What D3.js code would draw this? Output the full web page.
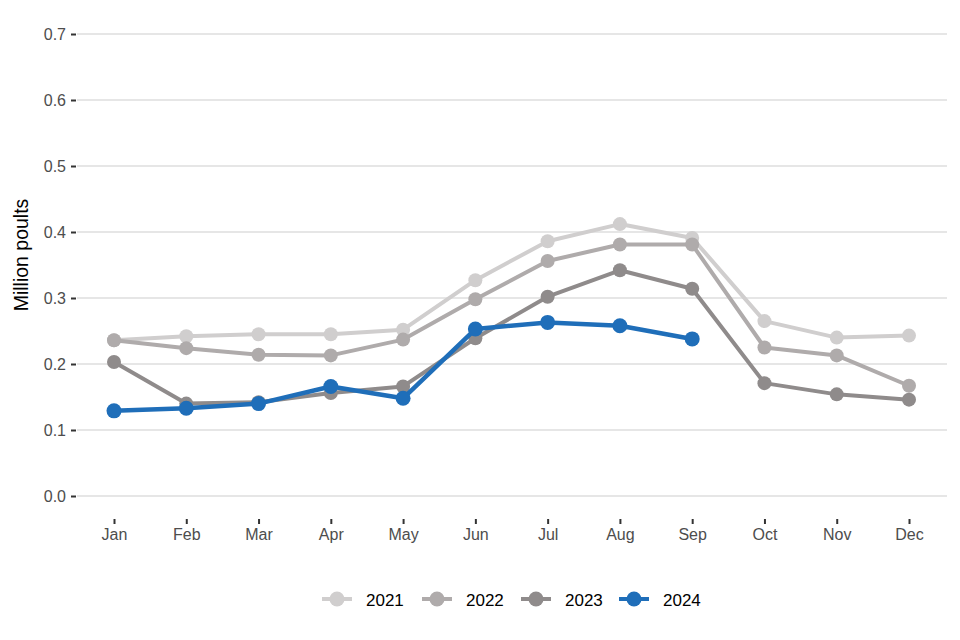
<!DOCTYPE html>
<html><head><meta charset="utf-8">
<script src="https://cdn.jsdelivr.net/npm/d3@7"></script>
<style>body{margin:0;background:#fff;}svg{display:block;font-family:"Liberation Sans",Arial,sans-serif;}</style>
</head><body><svg id="c" width="960" height="640"></svg>
<script>
const months = ["Jan","Feb","Mar","Apr","May","Jun","Jul","Aug","Sep","Oct","Nov","Dec"];
const years = ["2021","2022","2023","2024"];
const v2021 = [0.236,0.242,0.245,0.245,0.252,0.327,0.386,0.412,0.391,0.265,0.240,0.243];
const v2022 = [0.236,0.224,0.214,0.213,0.237,0.298,0.356,0.381,0.381,0.225,0.213,0.167];
const v2023 = [0.203,0.140,0.142,0.156,0.166,0.239,0.302,0.342,0.314,0.171,0.154,0.146];
const v2024 = [0.129,0.133,0.140,0.166,0.148,0.253,0.263,0.258,0.238];
const yTicks = [0,0.1,0.2,0.3,0.4,0.5,0.6,0.7];
const colors = ["#d0cece","#afabab","#8f8b8b","#1f6eb9"];
const seriesVals = [v2021,v2022,v2023,v2024];

const svg = d3.select("#c");
const x = d3.scalePoint().domain(months).range([114,909]);
const y = d3.scaleLinear().domain([0,0.7]).range([496,34]);
const gridL = 77, gridR = 947;

svg.append("g").selectAll("line").data(yTicks).join("line")
  .attr("x1",gridL).attr("x2",gridR).attr("y1",d=>y(d)).attr("y2",d=>y(d))
  .attr("stroke","#e6e6e6").attr("stroke-width",2);

const ya = svg.append("g").attr("transform",`translate(${gridL},0)`)
  .call(d3.axisLeft(y).tickValues(yTicks).tickFormat(d3.format(".1f")).tickSize(5).tickPadding(6));
ya.attr("font-size",null).attr("font-family",null);
ya.select(".domain").remove();
ya.selectAll(".tick line").attr("stroke","#333").attr("stroke-width",2).attr("x1",-6).attr("x2",-1);
ya.selectAll(".tick text").attr("fill","#4d4d4d").style("font-size","16px").attr("dy","0.36em");

const xa = svg.append("g").attr("transform",`translate(0,519)`)
  .call(d3.axisBottom(x).tickSize(5).tickPadding(5));
xa.attr("font-size",null).attr("font-family",null);
xa.select(".domain").remove();
xa.selectAll(".tick line").attr("stroke","#333").attr("stroke-width",2);
xa.selectAll(".tick text").attr("fill","#4d4d4d").style("font-size","16px");

svg.append("text").attr("transform","translate(28,255) rotate(-90)")
  .attr("text-anchor","middle").style("font-size","19.5px").attr("fill","#000").text("Million poults");

const line = d3.line().x((d,i)=>x(months[i])).y(d=>y(d));
seriesVals.forEach((vals,k)=>{
  const g = svg.append("g");
  g.append("path").datum(vals).attr("d",line).attr("fill","none")
    .attr("stroke",colors[k]).attr("stroke-width",k===3?4.5:4).attr("stroke-linejoin","round");
  g.selectAll("circle").data(vals).join("circle")
    .attr("cx",(d,i)=>x(months[i])).attr("cy",d=>y(d)).attr("r",k===3?7.5:7).attr("fill",colors[k]);
});

const legX = [337,437,536,634];
const leg = svg.append("g");
years.forEach((yr,k)=>{
  const g = leg.append("g").attr("transform",`translate(${legX[k]},599)`);
  g.append("line").attr("x1",-15).attr("x2",15).attr("stroke",colors[k]).attr("stroke-width",4);
  g.append("circle").attr("r",7.5).attr("fill",colors[k]);
  g.append("text").attr("x",29).attr("y",6.5).style("font-size","17px").attr("fill","#000").text(yr);
});
</script></body></html>
